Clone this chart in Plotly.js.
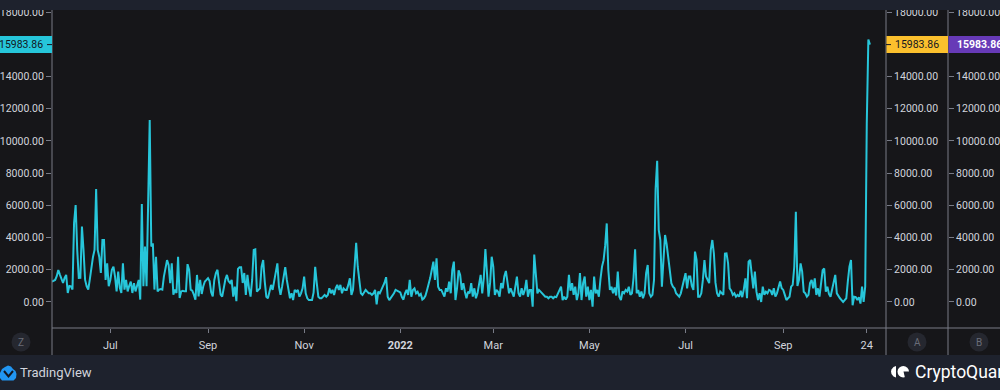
<!DOCTYPE html>
<html><head><meta charset="utf-8">
<script src="https://cdn.plot.ly/plotly-3.0.1.min.js"></script>
<style>html,body{margin:0;padding:0;background:#161619;overflow:hidden}#chart{width:1000px;height:390px;}</style>
</head><body><div id="chart"></div>
<script>
// ---- data ----
const startDate = '2021-05-25';
const values = [
1260,1300,1370,1600,1990,1700,1450,1180,1500,1680,
560,1000,975,770,4900,6020,3230,1490,1500,4680,
3230,1370,975,770,1400,2200,2800,3230,7020,3230,
2800,1800,3850,3850,1370,2400,975,1370,2000,2200,
1580,660,1890,900,560,2400,770,1370,660,1000,
1270,560,1170,660,1000,1370,150,6080,975,3440,
975,6540,11300,3440,3640,770,2800,660,770,800,
770,1580,2200,2600,2300,1170,2400,460,770,560,
2800,250,660,700,660,660,2350,2000,770,700,
460,150,1680,350,1370,500,975,1270,1370,1480,
1300,600,350,1370,1790,2000,1200,460,
330,900,1400,1680,1300,1180,1370,330,950,50,
2050,2160,2160,1180,1800,440,1680,850,330,1370,
3230,3270,640,750,850,2190,2610,1270,330,230,
750,1060,750,1370,2000,2400,950,440,950,1470,
2160,1370,640,230,540,120,750,640,750,330,
540,850,1580,540,230,120,120,120,600,2190,
1170,330,230,230,330,440,330,440,850,540,
750,440,850,1060,750,1060,540,850,750,750,
1060,1470,440,750,2190,3680,2190,1370,540,440,
640,750,640,540,540,440,540,750,-150,640,
540,750,950,1200,1540,330,120,
250,440,540,750,700,600,600,300,150,540,
750,440,1370,330,750,850,540,640,400,500,
150,230,400,750,1100,1500,2000,2510,1370,2710,
950,750,750,540,330,850,640,1270,540,2000,
2510,120,850,1970,1680,750,1170,640,230,640,
540,1170,330,850,230,540,1270,1680,540,1500,
3290,1500,330,1200,2810,2190,440,750,640,330,
1170,850,1580,1930,1170,540,850,640,330,950,
1580,540,330,850,440,750,1370,330,750,750,
-290,2950,1500,540,750,640,500,440,330,330,
230,330,330,230,330,300,
540,750,950,120,330,150,330,1680,700,1170,
440,950,120,540,1790,120,1170,1580,330,950,
120,750,-290,1580,540,750,330,1400,2200,2600,
3500,4880,2000,750,950,540,900,400,1890,330,
120,650,540,750,650,950,440,540,1500,3270,
540,750,330,650,230,540,1790,2300,540,330,
440,1370,7020,8770,4470,3850,950,2610,4160,3600,
2810,1790,1170,950,850,540,440,330,540,950,
1370,1790,850,1580,1580,1000,750,3130,2610,330,
330,540,1370,2610,1580,1370,1170,3230,3850,3000,
1200,540,330,650,540,440,3000,
3020,2400,850,700,440,540,330,440,330,700,
300,800,1470,230,2510,2610,1780,850,1890,640,
120,540,0,950,440,640,540,750,700,440,
850,330,540,1000,1270,850,750,440,120,230,
330,950,1060,2190,5610,1000,1370,2400,1890,640,
540,330,440,1170,1370,850,1470,440,850,330,
1270,1970,2080,640,950,500,330,850,1370,1680,
540,330,230,120,0,120,230,1300,2200,2610,
-200,330,300,120,300,-100,950,0,950,11100,16300,15983.86
];
const tickDates = ['2021-07-01','2021-09-01','2021-11-01','2022-01-01','2022-03-01','2022-05-01','2022-07-01','2022-09-01','2022-10-24'];
const tickLabels = ['Jul','Sep','Nov','<b>2022</b>','Mar','May','Jul','Sep','24'];
const yTicks = [0,2000,4000,6000,8000,10000,12000,14000,16000,18000];
const lastLabel = '15983.86';

// ---- build ----
const DAY = 86400000;
const t0 = Date.parse(startDate + 'T00:00:00Z');
const fmt = ms => new Date(ms).toISOString().replace('T',' ').slice(0,19);
const dates = values.map((v,i) => fmt(t0 + i*DAY));
const xRange = [fmt(t0), fmt(t0 + 529.2*DAY)];
const yRange = [-1615, 18133];
const lastVal = values[values.length-1];

const W=1000, H=390, ML=52, MR=0, MT=10, MB=62;
const PW = W-ML-MR, PH = H-MT-MB;
const px = x => (x-ML)/PW;
const py = y => (H-MB-y)/PH;
const lastY = (lastVal - yRange[0])/(yRange[1]-yRange[0]);
const half = 8.5/PH;

const FONT = 'Roboto, "Liberation Sans", Arial, sans-serif';
const AX = '#787b86';
const TXT = '#d1d4dc';
const BAR = '#1e222d';
const FS = 10.5;

function path(pts){ return 'M' + pts.map(p => px(p[0]) + ',' + py(p[1])).join(' L') + ' Z'; }

const shapes = [
  {type:'rect', xref:'paper', yref:'paper', x0:px(0), x1:px(1000), y0:py(0), y1:py(10), fillcolor:BAR, line:{width:0}, layer:'above'},
  {type:'rect', xref:'paper', yref:'paper', x0:px(0), x1:px(1000), y0:py(355), y1:py(390), fillcolor:BAR, line:{width:0}, layer:'above'},
  {type:'line', xref:'paper', yref:'paper', x0:px(52), x1:px(52), y0:py(10), y1:py(355), line:{color:AX, width:1}, layer:'above'},
  {type:'line', xref:'paper', yref:'paper', x0:px(886), x1:px(886), y0:py(10), y1:py(355), line:{color:AX, width:1}, layer:'above'},
  {type:'line', xref:'paper', yref:'paper', x0:px(948), x1:px(948), y0:py(10), y1:py(355), line:{color:AX, width:1}, layer:'above'},
  {type:'line', xref:'paper', yref:'paper', x0:px(52), x1:px(1000), y0:py(328), y1:py(328), line:{color:AX, width:1}, layer:'above'},
  {type:'rect', xref:'paper', yref:'paper', x0:px(0), x1:px(52), y0:lastY-half, y1:lastY+half, fillcolor:'#26c6da', line:{width:0}, layer:'above'},
  {type:'rect', xref:'paper', yref:'paper', x0:px(886.5), x1:px(948), y0:lastY-half, y1:lastY+half, fillcolor:'#fbc02d', line:{width:0}, layer:'above'},
  {type:'rect', xref:'paper', yref:'paper', x0:px(948.5), x1:px(1000), y0:lastY-half, y1:lastY+half, fillcolor:'#673ab7', line:{width:0}, layer:'above'},
  {type:'line', xref:'paper', yref:'paper', x0:px(47), x1:px(52), y0:lastY, y1:lastY, line:{color:'#131722', width:1}, layer:'above'},
  {type:'line', xref:'paper', yref:'paper', x0:px(886), x1:px(891), y0:lastY, y1:lastY, line:{color:'#131722', width:1}, layer:'above'},
  {type:'circle', xref:'paper', yref:'paper', x0:px(11.5), x1:px(30.5), y0:py(332.5), y1:py(351.5), fillcolor:'#25272f', line:{width:0}, layer:'above'},
  {type:'circle', xref:'paper', yref:'paper', x0:px(907.5), x1:px(926.5), y0:py(332.5), y1:py(351.5), fillcolor:'#25272f', line:{width:0}, layer:'above'},
  {type:'circle', xref:'paper', yref:'paper', x0:px(969.5), x1:px(988.5), y0:py(332.5), y1:py(351.5), fillcolor:'#25272f', line:{width:0}, layer:'above'},
  {type:'path', xref:'paper', yref:'paper', path:path([[0,373],[2,369],[5,367],[8,365.5],[11,366.5],[13,369],[15.5,371],[16.5,374],[16,378],[13.5,380.5],[2,380.5],[0,378]]), fillcolor:'#2196f3', line:{width:0}, layer:'above'},
  {type:'path', xref:'paper', yref:'paper', path:'M'+px(4)+','+py(371)+' L'+px(8.5)+','+py(376.5)+' L'+px(13)+','+py(371), fillcolor:'rgba(0,0,0,0)', line:{color:'#131722', width:2}, layer:'above'},
  {type:'path', xref:'paper', yref:'paper', path:path([[896,366],[893.5,367],[891.5,369.5],[891,371.5],[891.5,374],[893.5,376.5],[896,377.5]]), fillcolor:'#ffffff', line:{width:0}, layer:'above'},
  {type:'circle', xref:'paper', yref:'paper', x0:px(897.5), x1:px(909), y0:py(366), y1:py(377.5), fillcolor:'#ffffff', line:{width:0}, layer:'above'},
  {type:'path', xref:'paper', yref:'paper', path:path([[903.5,371.5],[909.5,371.5],[909.5,378],[905,378]]), fillcolor:BAR, line:{width:0}, layer:'above'}
];

const ann = (x, y, text, opts) => Object.assign({xref:'paper', yref:'paper', x:x, y:y, text:text, showarrow:false, borderpad:0, yanchor:'middle', font:{family:FONT, size:FS, color:TXT}}, opts||{});
const annotations = [
  ann(px(44), lastY, lastLabel, {xanchor:'right', font:{family:FONT, size:FS, color:'#131722'}}),
  ann(px(894), lastY, lastLabel, {xanchor:'left', font:{family:FONT, size:FS, color:'#131722'}}),
  ann(px(956), lastY, '<b>'+lastLabel+'</b>', {xanchor:'left', font:{family:FONT, size:FS, color:'#ffffff'}}),
  ann(px(21), py(342), 'Z', {xanchor:'center', font:{family:FONT, size:10, color:'#6a6d78'}}),
  ann(px(917), py(342), 'A', {xanchor:'center', font:{family:FONT, size:10, color:'#6a6d78'}}),
  ann(px(979), py(342), 'B', {xanchor:'center', font:{family:FONT, size:10, color:'#6a6d78'}}),
  ann(px(19), py(372.5), 'TradingView', {xanchor:'left', font:{family:FONT, size:13, color:TXT}}),
  ann(px(914), py(372), 'CryptoQuant', {xanchor:'left', font:{family:FONT, size:17.5, color:'#ffffff'}})
];

const yBase = {
  range: yRange, tickvals: yTicks, tickformat: '.2f', ticks: 'outside', ticklen: 5,
  tickcolor: AX, showgrid: false, zeroline: false, showline: false,
  tickfont: {family: FONT, size: FS, color: TXT}, fixedrange: true
};

const traces = [
  {type:'scatter', mode:'lines', x: dates, y: values, line:{color:'#27c6da', width:2}, hoverinfo:'skip', showlegend:false},
  {type:'scatter', mode:'lines', x: [], y: [], yaxis:'y2', hoverinfo:'skip', showlegend:false},
  {type:'scatter', mode:'lines', x: [], y: [], yaxis:'y3', hoverinfo:'skip', showlegend:false}
];

const layout = {
  width: W, height: H,
  margin: {l: ML, r: MR, t: MT, b: MB, pad: 0},
  paper_bgcolor: '#161619', plot_bgcolor: '#161619',
  showlegend: false,
  xaxis: {
    type: 'date', domain: [0, px(886)], range: xRange,
    tickvals: tickDates, ticktext: tickLabels,
    ticks: 'outside', ticklen: 4, tickcolor: AX, showgrid: false, zeroline: false, showline: false,
    tickfont: {family: FONT, size: 11, color: TXT}, ticklabelstandoff: 3, fixedrange: true
  },
  yaxis: Object.assign({}, yBase, {side: 'left'}),
  yaxis2: Object.assign({}, yBase, {overlaying: 'y', side: 'right', anchor: 'free', position: px(886)}),
  yaxis3: Object.assign({}, yBase, {overlaying: 'y', side: 'right', anchor: 'free', position: px(948)}),
  shapes: shapes,
  annotations: annotations
};

Plotly.newPlot('chart', traces, layout, {displayModeBar: false, staticPlot: true});
</script>
</body></html>
